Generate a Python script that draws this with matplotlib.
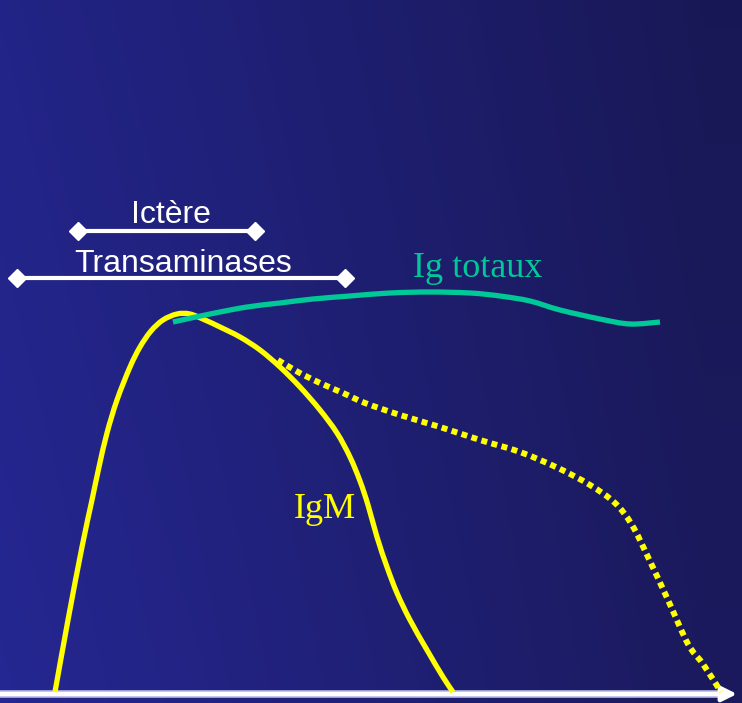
import numpy as np
import matplotlib
matplotlib.use("Agg")
import matplotlib.pyplot as plt
from matplotlib.path import Path
from matplotlib.patches import PathPatch

# ---- data (chart units: x = time, y = level) ----
igm_x = [55, 68, 82, 92, 99, 107, 117, 130, 140, 151, 163, 177, 190, 205, 220, 240, 260, 280, 300, 320,
         337, 350, 360, 368, 377, 387, 397, 410, 427, 443, 453]
igm_y = [692, 620, 547, 500, 467, 433, 400, 367, 347, 331, 320, 314, 314, 320, 327, 337, 350, 367, 387, 410,
         433, 457, 481, 505, 537, 567, 593, 620, 650, 677, 692]

dot_x = [278, 298, 320, 343, 365, 400, 440, 480, 520, 558, 590, 615, 632, 648, 668, 688, 703, 721]
dot_y = [360, 372, 383, 393, 403, 415, 427, 440, 452, 468, 485, 503, 525, 557, 600, 644, 664, 692]

tot_x = [173, 210, 247, 280, 313, 350, 390, 430, 470, 500, 530, 560, 600, 630, 660]
tot_y = [322, 314, 307, 303, 299, 296, 293, 292, 293, 296, 301, 310, 319, 324, 322]

bar_labels = ["Ictère", "Transaminases"]
bar_start = [78, 17]
bar_end = [255, 345]
bar_level = [231, 278]
bar_text_x = [171, 183]
bar_text_y = [223, 272]

axis_y = 694
axis_end = 737

W, H = 742, 703


def smooth_path(xs, ys):
    """Bezier path passing through every given point (Catmull-Rom tangents)."""
    p = np.column_stack([xs, ys]).astype(float)
    n = len(p)
    verts = [p[0]]
    codes = [Path.MOVETO]
    for i in range(n - 1):
        p0 = p[i - 1] if i > 0 else p[i]
        p1, p2 = p[i], p[i + 1]
        p3 = p[i + 2] if i + 2 < n else p[i + 1]
        c1 = p1 + (p2 - p0) / 6.0
        c2 = p2 - (p3 - p1) / 6.0
        verts += [c1, c2, p2]
        codes += [Path.CURVE4] * 3
    return Path(verts, codes)


fig = plt.figure(figsize=(W / 100, H / 100), dpi=100)
ax = fig.add_axes([0, 0, 1, 1])
ax.set_xlim(0, W)
ax.set_ylim(H, 0)
ax.axis("off")

# background gradient
left = np.array([37, 39, 146]) / 255
right = np.array([27, 26, 94]) / 255
gx = np.linspace(0, 1, 200)
gy = np.linspace(0, 1, 100)
t = np.clip(gx * 1.05, 0, 1)
row = left[None, :] * (1 - t[:, None]) + right[None, :] * t[:, None]
shade = 0.92 + 0.08 * gy
img = row[None, :, :] * shade[:, None, None]
ax.imshow(np.clip(img, 0, 1), extent=[0, W, H, 0], aspect="auto", zorder=0, interpolation="bilinear")

yellow = "#ffff00"
teal = "#00c896"

# axis arrow
ax.plot([0, axis_end - 15], [axis_y, axis_y], color="#b8b8e8", lw=5.5, solid_capstyle="butt", zorder=2)
ax.annotate("", xy=(axis_end, axis_y), xytext=(0, axis_y),
            arrowprops=dict(arrowstyle="-|>", color="white", lw=3.2, mutation_scale=22,
                            shrinkA=0, shrinkB=0), zorder=3)

# curves
ax.add_patch(PathPatch(smooth_path(igm_x, igm_y), fill=False, edgecolor=yellow, lw=3.8,
                       capstyle="butt", joinstyle="round", zorder=4))
ax.add_patch(PathPatch(smooth_path(dot_x, dot_y), fill=False, edgecolor=yellow, lw=4.3,
                       linestyle=(0, (1, 0.75)), capstyle="butt", zorder=4))
ax.add_patch(PathPatch(smooth_path(tot_x, tot_y), fill=False, edgecolor=teal, lw=3.8,
                       capstyle="butt", joinstyle="round", zorder=5))

# bars
for lab, s, e, lv, tx, ty in zip(bar_labels, bar_start, bar_end, bar_level, bar_text_x, bar_text_y):
    ax.plot([s, e], [lv, lv], color="white", lw=3, marker="D", markersize=9, zorder=6)
    ax.text(tx, ty, lab, color="white", fontsize=23, family="Liberation Sans",
            ha="center", va="baseline", zorder=6)

ax.text(478, 277, "Ig totaux", color=teal, fontsize=26, family="Liberation Serif",
        ha="center", va="baseline", zorder=6)
ax.text(325, 518, "IgM", color=yellow, fontsize=26, family="Liberation Serif",
        ha="center", va="baseline", zorder=6)

fig.savefig("out.png", dpi=100)
